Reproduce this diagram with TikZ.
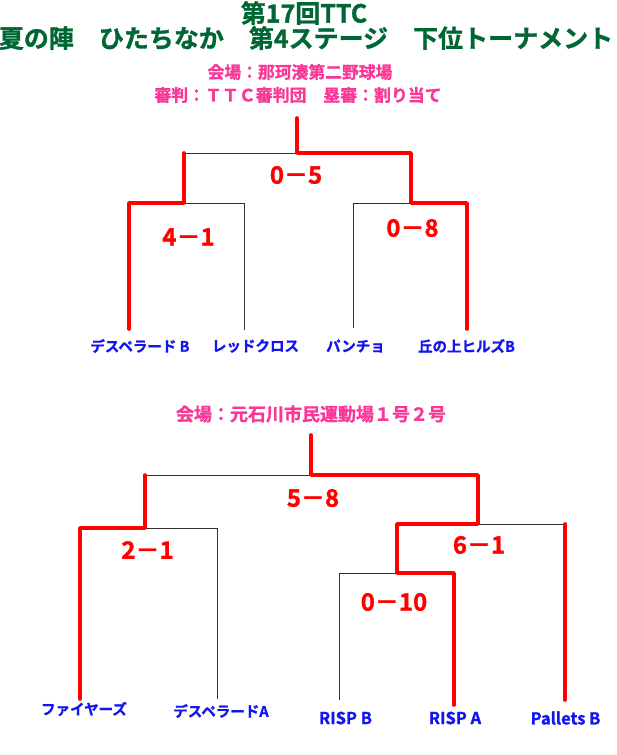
\documentclass[tikz,border=0pt]{standalone}
\usepackage{fontspec}
\setmainfont{Noto Sans CJK JP}[BoldFont={Noto Sans CJK JP Bold},BoldFeatures={FakeBold=1.2}]
\definecolor{ttcgreen}{RGB}{0,102,51}
\definecolor{ttcpink}{RGB}{250,55,150}
\definecolor{teamblue}{RGB}{20,20,240}
\definecolor{winred}{RGB}{255,0,0}
\definecolor{losegray}{RGB}{50,50,50}
\begin{document}
\begin{tikzpicture}[x=1pt,y=-1pt,
  titletext/.style={text=ttcgreen,inner sep=0pt,font=\fontsize{25}{25}\selectfont\bfseries},
  infotext/.style={text=ttcpink,inner sep=0pt},
  teamtext/.style={text=teamblue,inner sep=0pt,font=\fontsize{14.5}{14.5}\selectfont\bfseries},
  latinteam/.style={teamtext,font=\fontsize{16.5}{16.5}\selectfont\bfseries},
  scoretext/.style={text=winred,inner sep=0pt,font=\fontsize{24}{24}\selectfont\bfseries},
  winline/.style={draw=winred,line width=3.6pt,line join=round,line cap=round},
  loseline/.style={draw=losegray,line width=0.8pt}]
\useasboundingbox (0,0) rectangle (616,755);

% titles
\node[titletext] (title1) at (304,13) {第17回TTC};
\node[titletext] (title2) at (306,38) {夏の陣　ひたちなか　第4ステージ　下位トーナメント};
\node[infotext,font=\fontsize{16.8}{16.8}\selectfont\bfseries] (info1) at (300,72) {会場：那珂湊第二野球場};
\node[infotext,font=\fontsize{16.9}{16.9}\selectfont\bfseries] (info2) at (298,95) {審判：ＴＴＣ審判団　塁審：割り当て};
\node[infotext,font=\fontsize{18}{18}\selectfont\bfseries] (info3) at (311,414) {会場：元石川市民運動場１号２号};

% ---------- upper bracket ----------
\coordinate (ua) at (297,118);
\coordinate (uj) at (297,153);
\coordinate (ul) at (184,153);
\coordinate (ur) at (411,153);
\coordinate (ul2) at (184,203);
\coordinate (ull) at (129,203);
\coordinate (ulr) at (244,203);
\coordinate (ur2) at (411,203);
\coordinate (urr) at (467,203);
\coordinate (url) at (353,203);
\coordinate (ut1) at (129,329);
\coordinate (ut2) at (244,330);
\coordinate (ut3) at (353,328);
\coordinate (ut4) at (467,329);

\draw[loseline] (ul) -- (uj);
\draw[loseline] (ul2) -- (ulr) -- (ut2);
\draw[loseline] (ur2) -- (url) -- (ut3);
\draw[winline] (ua) -- (uj) -- (ur) -- (ur2) -- (urr) -- (ut4);
\draw[winline] (ul) -- (ul2) -- (ull) -- (ut1);

\node[scoretext] (s05) at (296,175) {0－5};
\node[scoretext] (s41) at (188.5,237) {4－1};
\node[scoretext] (s08) at (412.5,228) {0－8};

\node[teamtext] (team1) at (140,346) {デスペラード B};
\node[teamtext] (team2) at (255.5,346) {レッドクロス};
\node[teamtext] (team3) at (355.5,346) {パンチョ};
\node[teamtext] (team4) at (466.5,346) {丘の上ヒルズB};

% ---------- lower bracket ----------
\coordinate (la) at (311,435);
\coordinate (lj) at (311,475);
\coordinate (ll) at (145,475);
\coordinate (lr) at (478,475);
\coordinate (ll2) at (145,528);
\coordinate (lll) at (80,528);
\coordinate (llr) at (217,528);
\coordinate (lr2) at (478,524);
\coordinate (lrl) at (397,524);
\coordinate (lrr) at (565,524);
\coordinate (lrl2) at (397,573);
\coordinate (lrll) at (339,573);
\coordinate (lrlr) at (454,573);
\coordinate (lt1) at (80,699);
\coordinate (lt2) at (217,699);
\coordinate (lt3) at (339,700);
\coordinate (lt4) at (454,705);
\coordinate (lt5) at (565,700);

\draw[loseline] (ll) -- (lj);
\draw[loseline] (ll2) -- (llr) -- (lt2);
\draw[loseline] (lr2) -- (lrr);
\draw[loseline] (lrl2) -- (lrll) -- (lt3);
\draw[winline] (la) -- (lj) -- (lr) -- (lr2) -- (lrl) -- (lrl2) -- (lrlr) -- (lt4);
\draw[winline] (ll) -- (ll2) -- (lll) -- (lt1);
\draw[winline] (lrr) -- (lt5);

\node[scoretext] (s58) at (313,498) {5－8};
\node[scoretext] (s21) at (147.5,550) {2－1};
\node[scoretext] (s61) at (479,545) {6－1};
\node[scoretext] (s010) at (394,602) {0－10};

\node[teamtext] (team5) at (84,709) {ファイヤーズ};
\node[teamtext] (team6) at (221,711) {デスペラードA};
\node[latinteam] (team7) at (345.5,718) {RISP B};
\node[latinteam] (team8) at (455,718) {RISP A};
\node[latinteam] (team9) at (565.5,718) {Pallets B};
\end{tikzpicture}
\end{document}
